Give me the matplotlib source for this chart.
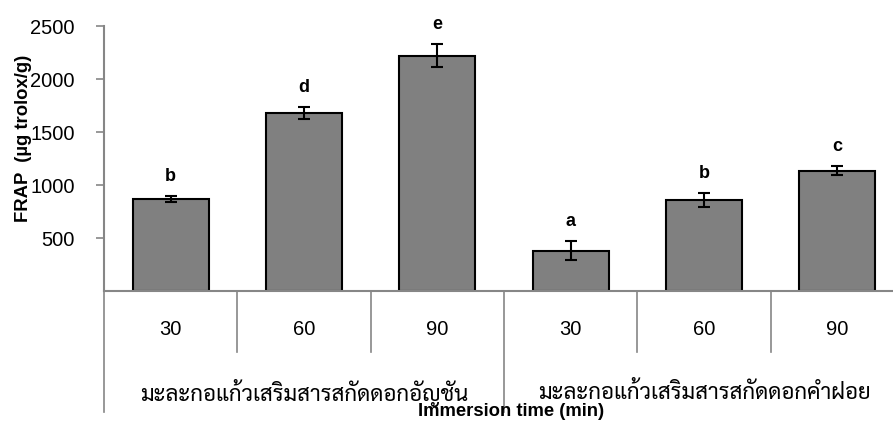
import matplotlib
matplotlib.use('Agg')
import matplotlib.pyplot as plt
from matplotlib import font_manager
import matplotlib.transforms as mtransforms

times = ['30', '60', '90', '30', '60', '90']
groups = ['มะละกอแก้วเสริมสารสกัดดอกอัญชัน', 'มะละกอแก้วเสริมสารสกัดดอกคำฝอย']
frap = [865, 1680, 2220, 380, 858, 1135]
frap_err = [28, 60, 110, 91, 67, 45]
letters = ['b', 'd', 'e', 'a', 'b', 'c']


def pick_font(names):
    for name in names:
        try:
            font_manager.findfont(font_manager.FontProperties(family=name),
                                  fallback_to_default=False)
            return name
        except ValueError:
            continue
    return None


base = ['Liberation Sans', 'DejaVu Sans']
plt.rcParams['font.family'] = base
thai_font = pick_font(['Sarabun', 'Noto Sans Thai', 'IBM Plex Sans Thai Looped', 'Niramit'])
thai_family = [thai_font] + base if thai_font else base

axis_grey = '#868686'

fig = plt.figure(figsize=(8.93, 4.25), dpi=100)
ax = fig.add_axes([0.1165, 0.3153, 0.896, 0.6235])

x = list(range(len(frap)))
ax.bar(x, frap, width=0.57, color='#808080', edgecolor='black', linewidth=1.5, zorder=2)
ax.errorbar(x, frap, yerr=frap_err, fmt='none', ecolor='black', elinewidth=1.5,
            capsize=4, capthick=1.5, zorder=3)

# significance letters above the error bars
for xi, v, e, lab in zip(x, frap, frap_err, letters):
    ax.annotate(lab, (xi, v + e), xytext=(0, 14), textcoords='offset points',
                ha='center', va='center', fontsize=13, fontweight='bold')

ax.set_xlim(-0.5, len(frap) - 0.5)
ax.set_ylim(0, 2500)
ax.set_yticks([500, 1000, 1500, 2000, 2500])
ax.tick_params(axis='y', labelsize=14.5, length=6, width=1.2, color=axis_grey, pad=15)
ax.set_xticks([])
for side in ['top', 'right']:
    ax.spines[side].set_visible(False)
for side in ['left', 'bottom']:
    ax.spines[side].set_color(axis_grey)
    ax.spines[side].set_linewidth(1.5)

# two-level category axis (time / sample), Excel style
trans = mtransforms.blended_transform_factory(ax.transData, ax.transAxes)
for xi, t in zip(x, times):
    ax.text(xi, -0.147, t, transform=trans, ha='center', va='center', fontsize=14.5)
for b in range(len(frap) + 1):
    xb = b - 0.5
    bottom = -0.457 if b % 3 == 0 else -0.23
    ax.plot([xb, xb], [0, bottom], transform=trans, color=axis_grey,
            linewidth=1.2, clip_on=False)
for gi, g in enumerate(groups):
    ax.text(gi * 3 + 1, -0.385, g, transform=trans, ha='center', va='center',
            fontsize=16, family=thai_family)

ax.text(0.509, -0.453, 'Immersion time (min)', transform=ax.transAxes, ha='center',
        va='center', fontsize=13.3, fontweight='bold')
ax.set_ylabel('FRAP  (µg trolox/g)', fontsize=13.3, fontweight='bold')
ax.yaxis.set_label_coords(-0.090, 0.575)

fig.savefig('out.png', dpi=100)
plt.close(fig)
